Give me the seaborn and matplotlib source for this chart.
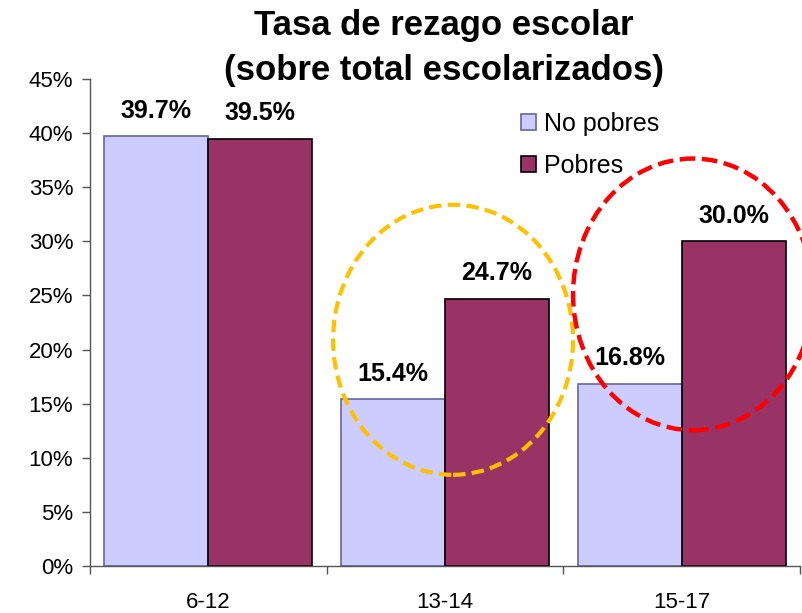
import pandas as pd
import matplotlib
matplotlib.use('Agg')
import matplotlib.pyplot as plt
from matplotlib.patches import Ellipse, Patch
from matplotlib.ticker import FixedLocator, FuncFormatter
import seaborn as sb

grupos = ['6-12', '13-14', '15-17']
no_pobres = [39.7, 15.4, 16.8]
pobres = [39.5, 24.7, 30.0]
series = ['No pobres', 'Pobres']
colores = {'No pobres': '#CCCCFF', 'Pobres': '#993366'}
bordes = {'No pobres': '#666699', 'Pobres': '#000000'}

df = pd.DataFrame({
    'edad': grupos * 2,
    'tasa': no_pobres + pobres,
    'grupo': ['No pobres'] * 3 + ['Pobres'] * 3,
})

sb.set_style('white')
plt.rcParams['font.family'] = ['Liberation Sans', 'DejaVu Sans']
plt.rcParams['text.color'] = 'black'
plt.rcParams['xtick.color'] = 'black'
plt.rcParams['ytick.color'] = 'black'

fig = plt.figure(figsize=(8.02, 6.13), dpi=100)
ax = fig.add_axes([90 / 802, 1 - 566 / 613, 710 / 802, (566 - 79) / 613])

sb.barplot(data=df, x='edad', y='tasa', hue='grupo', hue_order=series,
           palette=colores, saturation=1, width=0.88, gap=0, ax=ax,
           legend=False, zorder=2)

for cont, nombre in zip(ax.containers, series):
    for barra in cont:
        barra.set_edgecolor(bordes[nombre])
        barra.set_linewidth(1.2)
    for barra, valor in zip(cont, cont.datavalues):
        ax.annotate(f'{valor:.1f}%', (barra.get_x() + barra.get_width() / 2, barra.get_height()),
                    xytext=(0, 13.5), textcoords='offset points', ha='center', va='baseline',
                    fontsize=18, fontweight='bold', color='black', zorder=5, annotation_clip=False)

# circulos de resalte
ax.add_patch(Ellipse((1.034, 20.9), 1.014, 24.95, fill=False, edgecolor='#FFC000',
                     linewidth=3, linestyle=(0, (3.0, 1.5)), zorder=4, clip_on=False))
ax.add_patch(Ellipse((2.048, 25.1), 1.014, 25.1, fill=False, edgecolor='#FF0000',
                     linewidth=3.2, linestyle=(0, (3.5, 1.5)), zorder=4, clip_on=False))

ax.set_xlim(-0.5, 2.5)
ax.set_ylim(0, 45)
ax.set_yticks(range(0, 50, 5))
ax.yaxis.set_major_formatter(FuncFormatter(lambda v, p: f'{v:.0f}%'))
ax.xaxis.set_minor_locator(FixedLocator([-0.5, 0.5, 1.5, 2.5]))
ax.tick_params(axis='x', which='major', length=0, pad=19, labelsize=16, labelcolor='black')
ax.tick_params(axis='x', which='minor', length=6, width=1, color='#555555', direction='out', bottom=True)
ax.tick_params(axis='y', length=6, width=1, color='#555555', direction='out', left=True,
               labelsize=16, pad=6, labelcolor='black')
ax.set_xlabel('')
ax.set_ylabel('')

for lado in ['top', 'right']:
    ax.spines[lado].set_visible(False)
for lado in ['left', 'bottom']:
    ax.spines[lado].set_color('#555555')
    ax.spines[lado].set_linewidth(1)

manejadores = [Patch(facecolor=colores[s], edgecolor=bordes[s], linewidth=1.2) for s in series]
fig.legend(manejadores, series, loc='upper left', bbox_to_anchor=(521 / 802, 1 - 112 / 613),
           frameon=False, fontsize=18, handlelength=0.6, handleheight=0.6,
           handletextpad=0.3, labelspacing=0.72, borderpad=0, borderaxespad=0)

fig.text(0.553, 1 - 9 / 613, 'Tasa de rezago escolar\n(sobre total escolarizados)',
         ha='center', va='top', fontsize=25, fontweight='bold', linespacing=1.45)

fig.savefig('out.png', dpi=100)
